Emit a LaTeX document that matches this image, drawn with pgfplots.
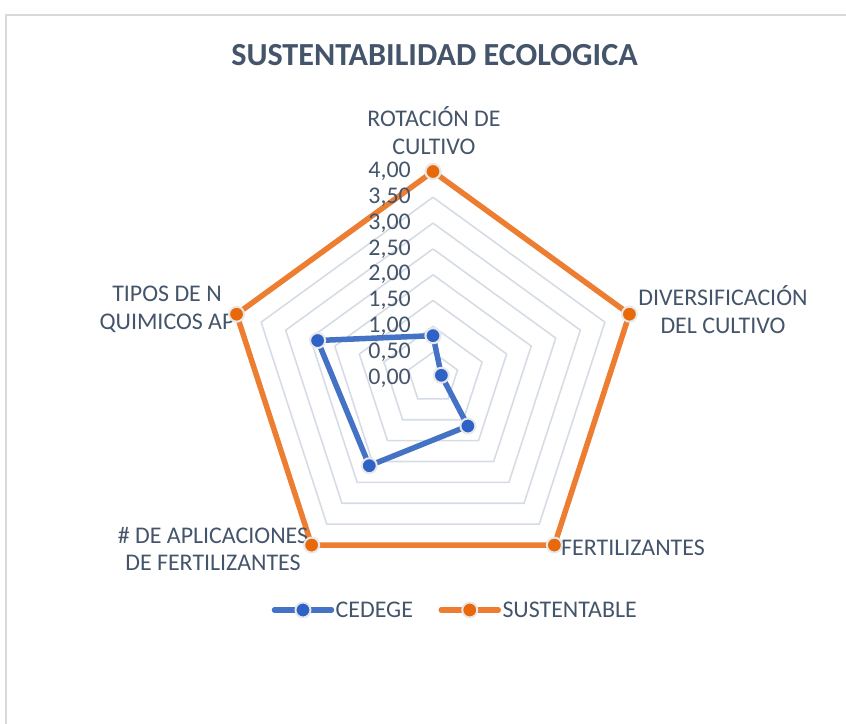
\documentclass[border=0pt]{standalone}
\usepackage{fontspec}
\setmainfont{Carlito}
\usepackage{pgfplots}
\pgfplotsset{compat=1.18}
\usepackage{pgfplotstable}
\definecolor{txt}{HTML}{44546A}
\definecolor{gridc}{HTML}{D6DCE5}
\definecolor{cblue}{HTML}{4472C4}
\definecolor{cbluem}{HTML}{2F62C6}
\definecolor{corange}{HTML}{ED7D31}
\definecolor{corangem}{HTML}{E8690C}
\definecolor{framec}{HTML}{D9D9D9}
\def\R{51.625}
\pgfplotstableread{
a r
90 0.82
18 0.17
-54 1.15
-126 2.10
-198 2.35
-270 0.82
}\cedege
\pgfplotstableread{
a r
90 4
18 4
-54 4
-126 4
-198 4
-270 4
}\sust
\begin{document}
\begin{tikzpicture}
\begin{axis}[name=ax, x=1bp, y=1bp, xmin=-433, xmax=413, ymin=-346, ymax=378,
  hide axis, clip=false,
  legend style={at={(axis cs:22,-232)}, anchor=center, draw=none, fill=none,
    legend columns=2, font=\fontsize{24}{28}\selectfont, text=txt,
    nodes={inner sep=1.5bp},
    /tikz/every even column/.append style={column sep=24bp}},
  legend image code/.code={\draw[mark repeat=2,mark phase=2,#1,line cap=round] plot coordinates {(0bp,0bp) (28.5bp,0bp) (57bp,0bp)};},
]
\pgfplotsinvokeforeach{0.5,1,1.5,2,2.5,3,3.5,4}{
\addplot[gridc, line width=1.6bp, forget plot] table[x expr={#1*\R*cos(\thisrow{a})}, y expr={#1*\R*sin(\thisrow{a})}] {\sust};
}
\addplot[cblue, line width=5.5bp, line join=round, mark=*, mark size=7.5bp,
  mark options={fill=cbluem, draw=gray!18, line width=2bp}]
  table[x expr={\thisrow{r}*\R*cos(\thisrow{a})}, y expr={\thisrow{r}*\R*sin(\thisrow{a})}] {\cedege};
\addlegendentry{CEDEGE}
\addplot[corange, line width=5.5bp, line join=round, mark=*, mark size=7.5bp,
  mark options={fill=corangem, draw=gray!18, line width=2bp}]
  table[x expr={\thisrow{r}*\R*cos(\thisrow{a})}, y expr={\thisrow{r}*\R*sin(\thisrow{a})}] {\sust};
\addlegendentry{SUSTENTABLE}
% frame
\draw[framec, line width=1.5bp] (axis cs:-427,-346) -- (axis cs:-427,363) -- (axis cs:413,363);
% title
\node[font=\bfseries\fontsize{32.3}{37}\selectfont, text=txt] at (axis cs:1.5,323) {SUSTENTABILIDAD ECOLOGICA};
% category labels
\begin{scope}[every node/.style={font=\fontsize{24}{28}\selectfont, text=txt, align=center, inner sep=0pt}]
\node at (axis cs:1,247) {ROTACIÓN DE\\CULTIVO};
\node at (axis cs:290,68) {DIVERSIFICACIÓN\\DEL CULTIVO};
\node at (axis cs:200,-170) {FERTILIZANTES};
\node at (axis cs:-220,-171) {\# DE APLICACIONES\\DE FERTILIZANTES};
\node at (axis cs:-266,68.5) {TIPOS DE N\\QUIMICOS AP};
\end{scope}
% radial tick labels
\begin{scope}[every node/.style={font=\fontsize{24}{28}\selectfont, text=txt, anchor=east, inner sep=0pt}]
\node at (axis cs:-22,0) {0,00};
\node at (axis cs:-22,0.5*\R) {0,50};
\node at (axis cs:-22,1*\R) {1,00};
\node at (axis cs:-22,1.5*\R) {1,50};
\node at (axis cs:-22,2*\R) {2,00};
\node at (axis cs:-22,2.5*\R) {2,50};
\node at (axis cs:-22,3*\R) {3,00};
\node at (axis cs:-22,3.5*\R) {3,50};
\node at (axis cs:-22,4*\R) {4,00};
\end{scope}
\end{axis}
\pgfresetboundingbox
\path (ax.south west) rectangle (ax.north east);
\end{tikzpicture}
\end{document}
